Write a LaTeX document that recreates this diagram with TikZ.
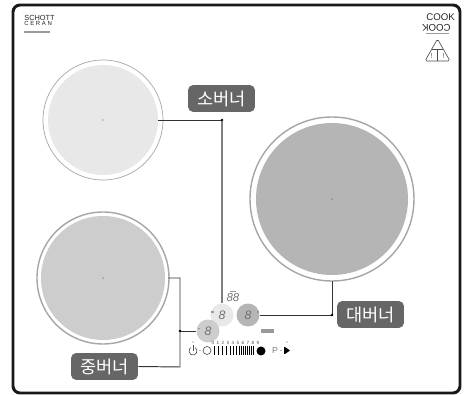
\documentclass[tikz,border=0pt]{standalone}
\usepackage{fontspec}
\setmainfont{Liberation Sans}
\newfontfamily\krfont{Noto Sans CJK KR}
\definecolor{smallgray}{HTML}{E8E8E8}
\definecolor{midgray}{HTML}{CDCDCD}
\definecolor{biggray}{HTML}{B5B5B5}
\definecolor{labelgray}{HTML}{666666}
\definecolor{linegray}{HTML}{333333}
\tikzset{
  burnerlabel/.style={fill=labelgray,rounded corners=3pt,minimum width=1.34cm,minimum height=0.54cm,inner sep=0pt,text=white,font=\krfont\fontsize{10}{10}\selectfont},
  knob/.style={circle,minimum size=0.46cm,inner sep=0pt},
  wire/.style={color=linegray,line width=0.55pt},
  knobdigit/.style={inner sep=0pt,text=black!55,font=\itshape\fontsize{7}{7}\selectfont},
  tinytext/.style={inner sep=0pt,text=black!70,font=\fontsize{2.6}{2.6}\selectfont},
  logotext/.style={inner sep=0pt,anchor=west,text=black!85},
  smudge/.style={fill=black!40}
}
\begin{document}
\begin{tikzpicture}[x=0.02cm,y=-0.02cm]
\useasboundingbox (0,0) rectangle (464,395);
\fill[white] (0,0) rectangle (464,395);
\draw[color=black!90,line width=1.7pt,rounded corners=4pt] (13,5) rectangle (460,393);
% burners
\coordinate (S) at (103,120);
\coordinate (M) at (103,278);
\coordinate (L) at (332,199);
\draw[color=gray!70,line width=0.4pt] (S) circle[radius=60];
\fill[color=smallgray] (S) circle[radius=55];
\draw[color=gray!70,line width=0.8pt] (M) circle[radius=66];
\fill[color=midgray] (M) circle[radius=62];
\draw[color=gray!70,line width=0.8pt] (L) circle[radius=82];
\fill[color=biggray] (L) circle[radius=76];
\fill[color=black!70] (S) circle[radius=0.7];
\fill[color=black!70] (M) circle[radius=0.7];
\fill[color=black!70] (L) circle[radius=0.7];
% knobs
\node[knob,fill=smallgray] (KS) at (222,315) {};
\node[knob,fill=biggray] (KL) at (248,315) {};
\node[knob,fill=midgray] (KM) at (208,331) {};
\node[knobdigit] at (KS) {8};
\node[knobdigit] at (KL) {8};
\node[knobdigit] at (KM) {8};
\node[knobdigit,font=\itshape\fontsize{6.5}{6.5}\selectfont] (KT) at (233,298) {88};
\fill[smudge] (230,291) rectangle (236,292);
\fill[smudge] (261,329) rectangle (274,333);
\fill[smudge] (211,311.5) rectangle (214,313);
\fill[smudge] (198,328) rectangle (200,329.5);
\fill[smudge] (257,311.5) rectangle (259,313);
% labels
\node[burnerlabel] (LS) at (221.5,98.5) {소버너};
\node[burnerlabel] (LM) at (104.5,366.5) {중버너};
\node[burnerlabel] (LL) at (370.5,314.5) {대버너};
% connectors
\coordinate (S1) at (158,120);
\coordinate (S2) at (222,120);
\coordinate (M1) at (168,278);
\coordinate (M2) at (180,278);
\coordinate (M3) at (180,367);
\coordinate (M4) at (180,331);
\coordinate (L1) at (332,281);
\coordinate (L2) at (332,315);
\draw[wire] (S1)--(S2);
\draw[color=gray,line width=0.8pt] (S2)--(KS.north);
\draw[wire] (M1)--(M2)--(M3)--(LM.east);
\draw[wire] (M4)--(KM.west);
\draw[wire] (L1)--(L2)--(KL.east);
\fill[black] (S2) circle[radius=1.3];
\fill[black] (M4) circle[radius=1.3];
\fill[black] (L2) circle[radius=1.3];
% control strip
\coordinate (PW) at (193,351);
\draw[color=black!70,line width=0.35pt] (207,350.5) circle[radius=4];
\draw[color=black!70,line width=0.35pt] (PW) ++(-60:4) arc[start angle=-60,end angle=240,radius=4];
\draw[color=black!70,line width=0.35pt] (193,345.5)--(193,351);
\foreach \x in {214,218,222,226,230,233,236,239,241,243,245,247,249,251,253}{
\draw[line width=0.55pt] (\x,346)--(\x,355);
}
\fill[black] (261,351) circle[radius=4.5];
\node[inner sep=0pt,font=\fontsize{5}{5}\selectfont,text=black!50] (P) at (275,350.5) {P};
\fill[black] (285,347)--(285,354)--(290,350.5)--cycle;
\fill[black] (283.5,347) rectangle (285,354);
\fill[black!60] (200,350.5) circle[radius=0.6];
\fill[black!60] (281,350.5) circle[radius=0.6];
\fill[black!60] (193,342) circle[radius=0.6];
\fill[black!60] (287,342) circle[radius=0.6];
\foreach \d [count=\i from 0] in {0,1,...,9}{
\node[tinytext] at ({213+5*\i},343) {\d};
}
% logos
\node[logotext,font=\fontsize{4.2}{4.2}\selectfont] (SC) at (24,17.5) {SCHOTT};
\node[logotext,font=\fontsize{3.4}{3.4}\selectfont] (CE) at (24,23) {C E R A N};
\fill[smudge] (24,31.5) rectangle (50,33);
\node[logotext,font=\fontsize{5.5}{5.5}\selectfont] (CK) at (426,17) {COOK};
\node[logotext,font=\fontsize{5.5}{5.5}\selectfont,rotate=180] (KC) at (451,28) {COOK};
\fill[smudge] (426,33.5) rectangle (449,34.5);
\draw[color=black!70,line width=0.35pt,rounded corners=1pt] (437.5,39)--(425,61)--(450,61)--cycle;
\draw[color=black!70,line width=0.3pt] (432,49)--(443,49);
\draw[color=black!70,line width=0.3pt] (437.5,49)--(437.5,61);
\node[tinytext,font=\fontsize{4}{4}\selectfont] (T1) at (431.5,56) {!};
\node[tinytext,font=\fontsize{4}{4}\selectfont] (T2) at (443.5,56) {!};
\end{tikzpicture}
\end{document}
